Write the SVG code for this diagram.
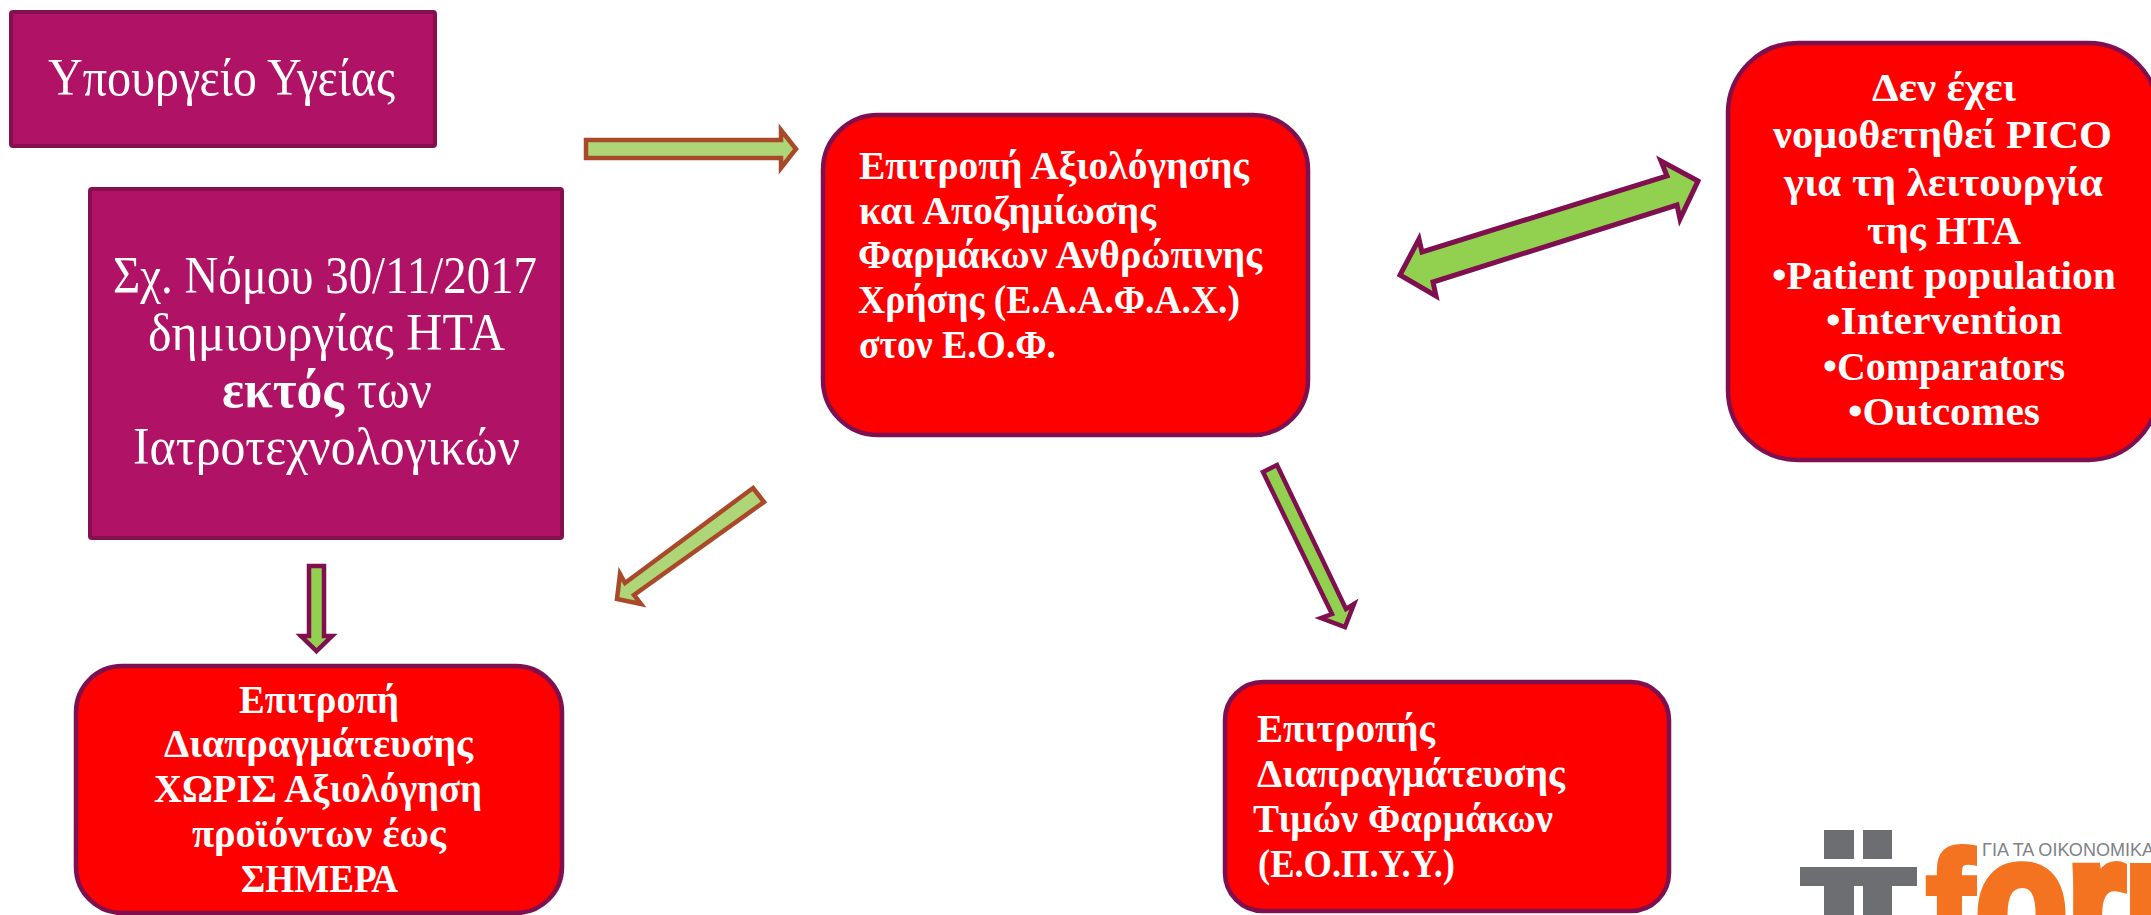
<svg xmlns="http://www.w3.org/2000/svg" width="2151" height="915" viewBox="0 0 2151 915">
<style>
text{fill:#fff;font-family:"Liberation Serif","Noto Sans CJK SC",serif}
.p{fill:#B01265;stroke:#860F4F;stroke-width:4}
.r{fill:#FF0000;stroke:#7F1050;stroke-width:4.5}
.t1{font-size:53px}
.t2{font-size:40px;font-weight:700}
.a1{fill:#AED678;stroke:#A9492A;stroke-width:4.5}
.a2{fill:#92D050;stroke:#7F0F4F;stroke-width:5}
.a3{fill:#92D050;stroke:#7F0F4F;stroke-width:4.5}
.lg{fill:#F47321;stroke:#F47321;font-family:"Liberation Sans",sans-serif;font-weight:700}
</style>
<rect width="2151" height="915" fill="#fff"/>
<g id="connectors">
<polygon class="a1" points="586,140 781,140 781,130 796,149 781,168 781,158 586,158"/>
<polygon class="a1" points="753,488 764,502 634,595 641,604 617,599 620,574 625,583"/>
<polygon class="a3" points="1277,465 1263,472 1332,614 1321,618 1345,627 1354,604 1346,609"/>
<polygon class="a2" points="1698,181 1661,161 1667,176 1422,252 1419,239 1400,275 1436,296 1433,282 1677,205 1680,219"/>
<polygon class="a3" points="309,566 324,566 324,636 332,636 316.5,651 301,636 309,636"/>
</g>
<g id="ministry">
<rect class="p" x="11" y="12" width="424" height="134" rx="2"/>
<text class="t1" x="48" y="95" textLength="347" lengthAdjust="spacingAndGlyphs">Υπουργείο Υγείας</text>
</g>
<g id="bill">
<rect class="p" x="90" y="189" width="472" height="349" rx="2"/>
<text class="t1" x="113" y="293" textLength="424" lengthAdjust="spacingAndGlyphs">Σχ. Νόμου 30/11/2017</text>
<text class="t1" x="148" y="350" textLength="357" lengthAdjust="spacingAndGlyphs">δημιουργίας ΗΤΑ</text>
<text class="t1" x="222" y="407"><tspan font-weight="700" textLength="122" lengthAdjust="spacingAndGlyphs">εκτός</tspan><tspan x="357" textLength="75" lengthAdjust="spacingAndGlyphs">των</tspan></text>
<text class="t1" x="133" y="464" textLength="387" lengthAdjust="spacingAndGlyphs">Ιατροτεχνολογικών</text>
</g>
<g id="negotiation-without">
<rect class="r" x="76" y="666" width="486" height="247" rx="46"/>
<text class="t2" x="239" y="713" textLength="160" lengthAdjust="spacingAndGlyphs">Επιτροπή</text>
<text class="t2" x="164" y="757" textLength="309" lengthAdjust="spacingAndGlyphs">Διαπραγμάτευσης</text>
<text class="t2" x="154" y="802" textLength="328" lengthAdjust="spacingAndGlyphs">ΧΩΡΙΣ Αξιολόγηση</text>
<text class="t2" x="192" y="847" textLength="254" lengthAdjust="spacingAndGlyphs">προϊόντων έως</text>
<text class="t2" x="241" y="892" textLength="157" lengthAdjust="spacingAndGlyphs">ΣΗΜΕΡΑ</text>
</g>
<g id="evaluation">
<rect class="r" x="823" y="115" width="485" height="320" rx="55"/>
<text class="t2" x="859" y="179" textLength="390" lengthAdjust="spacingAndGlyphs">Επιτροπή Αξιολόγησης</text>
<text class="t2" x="859" y="224" textLength="297" lengthAdjust="spacingAndGlyphs">και Αποζημίωσης</text>
<text class="t2" x="858" y="268" textLength="404" lengthAdjust="spacingAndGlyphs">Φαρμάκων Ανθρώπινης</text>
<text class="t2" x="858" y="313" textLength="382" lengthAdjust="spacingAndGlyphs">Χρήσης (Ε.Α.Α.Φ.Α.Χ.)</text>
<text class="t2" x="859" y="358" textLength="197" lengthAdjust="spacingAndGlyphs">στον Ε.Ο.Φ.</text>
</g>
<g id="pico">
<rect class="r" x="1728" y="43" width="430" height="417" rx="70"/>
<text class="t2" x="1872" y="101" textLength="144" lengthAdjust="spacingAndGlyphs">Δεν έχει</text>
<text class="t2" x="1773" y="148" textLength="339" lengthAdjust="spacingAndGlyphs">νομοθετηθεί PICO</text>
<text class="t2" x="1784" y="196" textLength="319" lengthAdjust="spacingAndGlyphs">για τη λειτουργία</text>
<text class="t2" x="1867" y="244" textLength="154" lengthAdjust="spacingAndGlyphs">της HTA</text>
<text class="t2" x="1772" y="289" textLength="344" lengthAdjust="spacingAndGlyphs">•Patient population</text>
<text class="t2" x="1826" y="334" textLength="236" lengthAdjust="spacingAndGlyphs">•Intervention</text>
<text class="t2" x="1823" y="380" textLength="242" lengthAdjust="spacingAndGlyphs">•Comparators</text>
<text class="t2" x="1848" y="425" textLength="192" lengthAdjust="spacingAndGlyphs">•Outcomes</text>
</g>
<g id="negotiation-prices">
<rect class="r" x="1225" y="682" width="444" height="229" rx="38"/>
<text class="t2" x="1257" y="742" textLength="178" lengthAdjust="spacingAndGlyphs">Επιτροπής</text>
<text class="t2" x="1257" y="787" textLength="308" lengthAdjust="spacingAndGlyphs">Διαπραγμάτευσης</text>
<text class="t2" x="1253" y="832" textLength="300" lengthAdjust="spacingAndGlyphs">Τιμών Φαρμάκων</text>
<text class="t2" x="1258" y="877" textLength="197" lengthAdjust="spacingAndGlyphs">(Ε.Ο.Π.Υ.Υ.)</text>
</g>
<g id="logo">
<rect x="1824" y="830" width="30" height="29" fill="#6D6E71"/>
<rect x="1863" y="830" width="29" height="29" fill="#6D6E71"/>
<rect x="1800" y="867" width="117" height="19" fill="#6D6E71"/>
<rect x="1824" y="886" width="30" height="29" fill="#6D6E71"/>
<rect x="1863" y="886" width="29" height="29" fill="#6D6E71"/>
<text class="lg" x="1926" y="963" font-size="160" stroke-width="6" textLength="48" lengthAdjust="spacingAndGlyphs">f</text>
<text class="lg" x="1976" y="961" font-size="176" stroke-width="10" textLength="240" lengthAdjust="spacingAndGlyphs">oru</text>
<text x="1982" y="856" textLength="172" lengthAdjust="spacingAndGlyphs" style="fill:#808285;font-family:'Liberation Sans',sans-serif;font-size:19px">ΓΙΑ ΤΑ ΟΙΚΟΝΟΜΙΚΑ</text>
</g>
</svg>
